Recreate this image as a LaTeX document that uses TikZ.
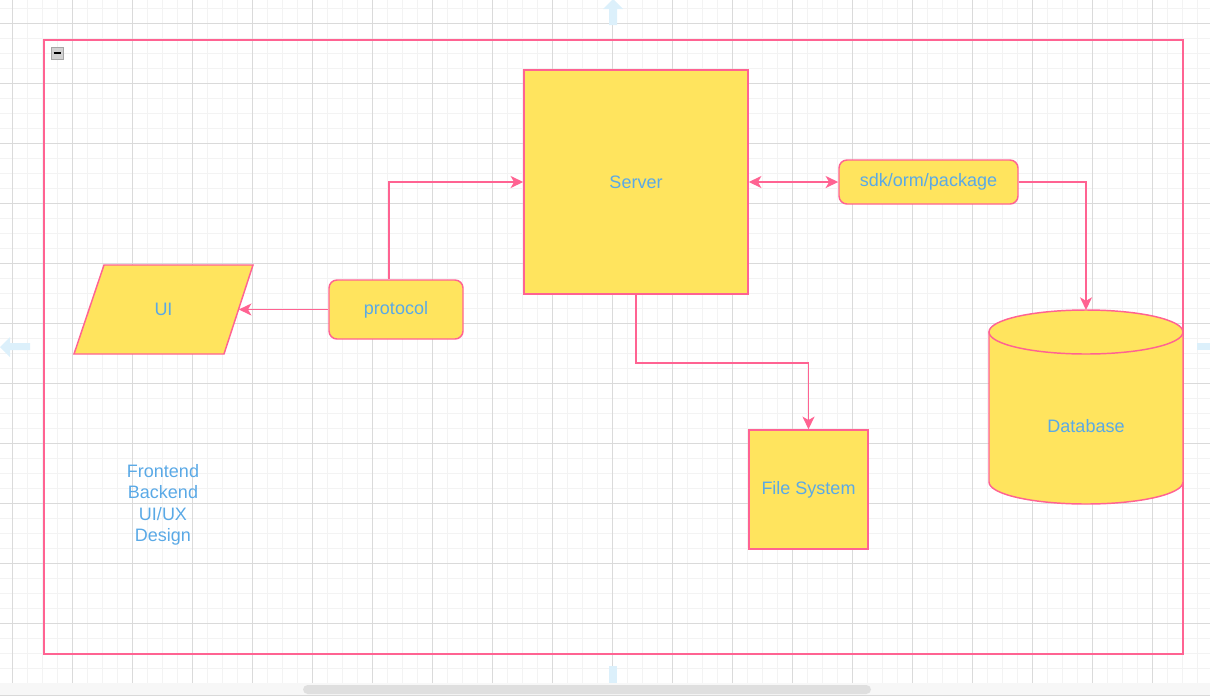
\documentclass[tikz,border=0pt]{standalone}
\usepackage{fontspec}
\setmainfont{Liberation Sans}
\usetikzlibrary{arrows.meta}
\definecolor{boxfill}{HTML}{FFE45E}
\definecolor{boxline}{HTML}{FF6392}
\definecolor{boxtext}{HTML}{5AA9E6}
\definecolor{gridminor}{HTML}{F3F3F3}
\definecolor{gridmajor}{HTML}{DADADA}
\definecolor{hoverblue}{HTML}{DCF0FB}
\tikzset{%
    block/.style={draw=boxline, fill=boxfill, line width=1.1pt, text=boxtext,
        font=\fontsize{13.5}{16.1}\selectfont, inner sep=0pt},
    label/.style={text=boxtext, font=\fontsize{13.5}{16.1}\selectfont, inner sep=0pt},
    link/.style={draw=boxline, line width=1.2pt},
    >={Stealth[length=9.5pt,width=9pt,inset=2.6pt]}
}

\begin{document}
\begin{tikzpicture}[x=0.75pt,y=-0.75pt]
    \useasboundingbox (0,0) rectangle (1210,697);
    % canvas grid
    \foreach \x in {-3,12,...,1210}
    {
    \draw[gridminor,line width=0.75pt] (\x,0)--(\x,683);
    }
    \foreach \y in {8,23,...,683}
    {
    \draw[gridminor,line width=0.75pt] (0,\y)--(1210,\y);
    }
    \foreach \x in {12,72,...,1210}
    {
    \draw[gridmajor,line width=0.75pt] (\x,0)--(\x,683);
    }
    \foreach \y in {23,83,...,683}
    {
    \draw[gridmajor,line width=0.75pt] (0,\y)--(1210,\y);
    }
    % hover arrows
    \fill[hoverblue] (609,25)--(609,9)--(603,9)--(613,-1)--(623,9)--(617,9)--(617,25)--cycle;
    \fill[hoverblue] (30,343)--(10,343)--(10,337)--(0,347)--(10,357)--(10,350)--(30,350)--cycle;
    \fill[hoverblue] (1197,343) rectangle (1212,350);
    \fill[hoverblue] (609,666) rectangle (617,683);
    % scrollbar
    \fill[gray!6] (0,683) rectangle (1210,695);
    \draw[gray!30,line width=0.75pt] (0,695.5)--(1210,695.5);
    \fill[gray!25,rounded corners=3.5pt] (303,685) rectangle (871,694);
    % container
    \draw[boxline,line width=1.1pt] (44,40) rectangle (1183,654);
    \draw[fill=gray!35,draw=gray!70,line width=0.6pt] (51,47) rectangle (63,59);
    \draw[line width=1.1pt] (53.5,53)--(60.5,53);
    % shapes
    \node[block, minimum width=168pt, minimum height=168pt] (server) at (636,182) {Server};
    \node[block, rounded corners=6pt, minimum width=134.25pt, minimum height=33pt] (sdk) at (928.5,182) {sdk/orm/package};
    \node[block, rounded corners=6pt, minimum width=100.5pt, minimum height=44.25pt] (protocol) at (396,309.5) {protocol};
    \node[block, minimum width=89.25pt, minimum height=89.25pt] (fs) at (808.5,489.5) {File System};
    \filldraw[boxline, fill=boxfill, line width=1.1pt] (104,265)--(253,265)--(224,354)--(74,354)--cycle;
    \node[label, minimum width=112.5pt, minimum height=66.75pt] (ui) at (163.5,309.5) {UI};
    \filldraw[boxline, fill=boxfill, line width=1.1pt] (989,332)--(989,482)
        arc[start angle=180,end angle=360,x radius=72.75pt,y radius=16.5pt]--(1183,332)--cycle;
    \filldraw[boxline, fill=boxfill, line width=1.1pt] (1086,332) ellipse [x radius=72.75pt,y radius=16.5pt];
    \coordinate (dbtop) at (1086,310);
    \node[label] (db) at (1086,426) {Database};
    \node[label, align=center] (roles) at (163,505) {Frontend\\Backend\\UI/UX\\Design};
    % connectors
    \draw[link,->] (protocol.west)--(ui.east);
    \draw[link,->] ([xshift=-5.25pt]protocol.north) |- (server.west);
    \draw[link,<->] (server.east)--(sdk.west);
    \draw[link,->] (sdk.east) -| (dbtop);
    \draw[link,->] (server.south)--++(0,68) -| (fs.north);
\end{tikzpicture}
\end{document}
